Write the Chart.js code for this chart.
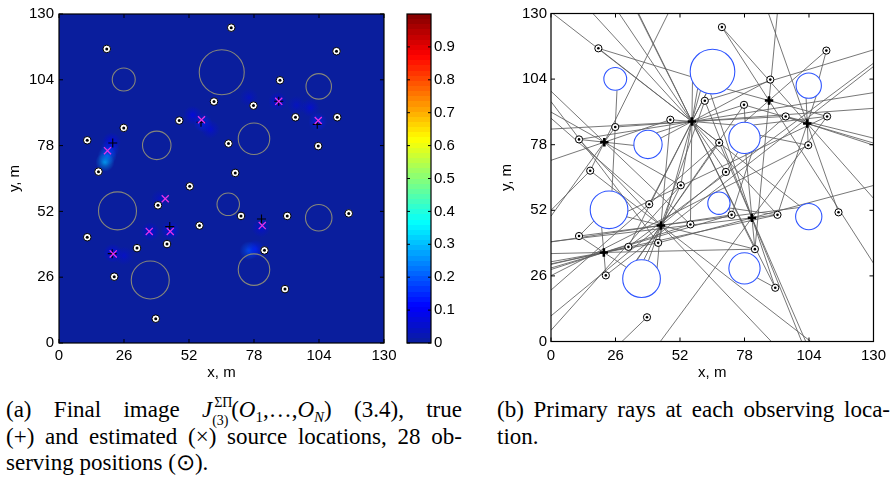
<!DOCTYPE html>
<html>
<head>
<meta charset="utf-8">
<script src="https://cdn.jsdelivr.net/npm/chart.js@4.4.0/dist/chart.umd.min.js"></script>
<style>
  html, body { margin: 0; padding: 0; background: #fff; }
  #wrap { position: relative; width: 893px; height: 477px; overflow: hidden; }
  canvas { position: absolute; top: 0; }
  #cMap { left: 0; }
  #cBar { left: 395px; }
  #cRays { left: 450px; }
  .cap { position: absolute; font-family: "Liberation Serif", "Times New Roman", serif; font-size: 23px; line-height: 26.5px; color: #000; }
  .cap > div { white-space: nowrap; }
  .jl { text-align: justify; text-align-last: justify; }
  .scr { display: inline-block; position: relative; width: 19px; height: 0; vertical-align: baseline; }
  .up { position: absolute; left: 2px; bottom: 7px; font-size: 14px; line-height: 1; }
  .dn { position: absolute; left: 0; top: -3px; font-size: 14px; line-height: 1; }
  sub { font-size: 15px; vertical-align: -5px; line-height: 0; }
</style>
</head>
<body>
<div id="wrap">
  <canvas id="cMap" width="402" height="380"></canvas>
  <canvas id="cBar" width="70" height="380"></canvas>
  <canvas id="cRays" width="443" height="380"></canvas>

  <div class="cap" style="left:6px; top:397px; width:456px;">
    <div class="jl">(a) Final image <i>J</i><span class="scr"><span class="up">ΣΠ</span><span class="dn">(3)</span></span>(<i>O</i><sub>1</sub>,…,<i>O</i><sub><i>N</i></sub>) (3.4), true</div>
    <div class="jl">(+) and estimated (×) source locations, 28 ob-</div>
    <div>serving positions (⊙).</div>
  </div>
  <div class="cap" style="left:497px; top:397px; width:393px;">
    <div class="jl">(b) Primary rays at each observing loca-</div>
    <div>tion.</div>
  </div>
</div>

<script>
// ---------- data (metres) ----------
const AXIS_TICKS = [0, 26, 52, 78, 104, 130];
const CBAR_TICKS = [0, 0.1, 0.2, 0.3, 0.4, 0.5, 0.6, 0.7, 0.8, 0.9];

// observing positions
const obsX = [68.9, 19.1, 111.0, 88.4, 62.0, 77.8, 48.1, 94.6, 111.3, 25.9, 11.3, 67.8, 103.7, 15.8,
              70.5, 52.3, 39.6, 72.8, 91.3, 115.9, 56.2, 11.3, 31.2, 43.2, 82.2, 22.1, 90.4, 38.7];
const obsY = [124.6, 116.2, 115.3, 103.8, 95.4, 93.8, 87.9, 89.2, 89.2, 85.0, 80.1, 78.8, 77.8, 67.7,
              67.2, 61.9, 54.4, 50.2, 50.2, 51.2, 46.4, 41.8, 37.5, 39.1, 36.6, 26.2, 21.3, 9.6];

// true source locations
const srcX = [21.5, 56.8, 87.9, 103.3, 44.3, 21.3, 81.0];
const srcY = [79.0, 87.2, 95.5, 86.4, 46.0, 35.3, 49.0];

// estimated source locations
const estX = [19.4, 57.0, 87.9, 103.7, 42.5, 36.1, 44.5, 21.7, 81.3];
const estY = [76.0, 88.2, 95.5, 87.9, 57.0, 44.1, 44.1, 35.2, 46.4];

// circular obstacles: centre and radius
const obstX = [25.9, 65.1, 103.9, 39.1, 78.0, 23.4, 67.7, 103.9, 36.5, 78.0];
const obstY = [104.1, 107.0, 101.4, 78.1, 80.7, 52.2, 54.8, 49.5, 24.9, 29.0];
const obstR = [4.6, 9.0, 5.1, 5.7, 6.3, 7.6, 4.5, 5.3, 7.6, 6.3];

// local maxima of the final image J (value 0..1)
const blobX = [18.4, 19.3, 20.3, 21.0, 57.5, 53.5, 60.5, 87.5, 103.5, 100.5, 44.5, 36.5, 21.5, 26.0, 80.8, 76.0, 78.5, 40.5, 76.0, 95.0];
const blobY = [71.5, 74.0, 76.5, 79.5, 87.0, 90.0, 84.5, 95.5, 87.5, 93.0, 44.5, 44.0, 35.5, 34.5, 45.5, 36.5, 37.0, 57.0, 97.0, 94.0];
const blobV = [0.30, 0.24, 0.16, 0.10, 0.14, 0.09, 0.07, 0.09, 0.14, 0.07, 0.12, 0.09, 0.11, 0.06, 0.07, 0.20, 0.14, 0.05, 0.05, 0.05];

// primary rays: observer number (1-based) and a point the ray passes through
const rayObs  = [1, 1, 2, 2, 3, 3, 4, 5, 5, 5, 6, 6, 6, 6, 7, 7, 7, 8, 8, 8, 8, 9, 9, 9, 9,
                 10, 10, 10, 10, 11, 11, 11, 12, 12, 12, 12, 13, 13, 13, 14, 14, 14, 15, 15, 15,
                 16, 16, 16, 16, 17, 17, 18, 18, 18, 18, 19, 19, 19, 19, 19, 20, 21, 21, 21,
                 22, 22, 22, 23, 23, 23, 24, 24, 24, 24, 25, 25, 25, 25, 25, 26, 26, 27, 27, 27, 28];
const rayAimX = [87.9, 103.3, 56.8, 87.9, 87.9, 103.3, 56.8, 130, 44.3, 81.0,
                 56.8, 44.3, 81.0, 103.3, 56.8, 44.3, 21.5, 130, 56.8, 44.3, 103.3, 87.9, 21.5, 81.0, 42.5,
                 26.6, 24.6, 56.8, 21.5, 21.5, 56.8, 44.3, 56.8, 81.0, 44.3, 42.5, 103.3, 56.8, 36.1,
                 0, 21.5, 44.3, 87.9, 56.8, 44.3, 56.8, 21.5, 44.3, 36.1, 56.8, 0,
                 44.3, 56.8, 87.9, 21.3, 81.0, 56.8, 103.3, 21.3, 42.5, 103.3, 56.8, 21.5, 21.3,
                 44.3, 56.8, 21.3, 130, 21.3, 56.8, 56.8, 21.3, 0, 81.0, 87.9, 44.3, 56.8, 21.3, 81.0,
                 130, 21.3, 56.8, 81.0, 44.3, 28.6];
const rayAimY = [95.5, 86.4, 87.2, 95.5, 95.5, 86.4, 87.2, 115.6, 46.0, 49.0,
                 87.2, 46.0, 49.0, 86.4, 87.2, 46.0, 79.0, 80.6, 87.2, 46.0, 86.4, 95.5, 79.0, 49.0, 57.0,
                 99.5, 60.0, 87.2, 79.0, 79.0, 87.2, 46.0, 87.2, 49.0, 46.0, 57.0, 86.4, 87.2, 44.1,
                 52.0, 79.0, 46.0, 95.5, 87.2, 46.0, 87.2, 79.0, 46.0, 44.1, 87.2, 88.5,
                 46.0, 87.2, 95.5, 35.3, 49.0, 87.2, 86.4, 35.3, 57.0, 86.4, 87.2, 79.0, 35.3,
                 46.0, 87.2, 35.3, 110.3, 35.3, 87.2, 87.2, 35.3, 95.1, 49.0, 95.5, 46.0, 87.2, 35.3, 49.0,
                 109.0, 35.3, 87.2, 49.0, 46.0, 0];

// ---------- helpers ----------
const SANS = '"Liberation Sans", Arial, Helvetica, sans-serif';
const AXIS_MAX = AXIS_TICKS[AXIS_TICKS.length - 1];
const BLOB_SIZE = 3.8;           // metres
const MAP_BASE = [10, 30, 157];  // colour of the lowest image value
const CLEAR = 'rgba(0,0,0,0)';

function jet(v) {
  const stops = [[0, MAP_BASE], [0.11, [0, 0, 255]], [0.365, [0, 255, 255]],
                 [0.62, [255, 255, 0]], [0.873, [255, 0, 0]], [1, [128, 0, 0]]];
  v = Math.max(0, Math.min(1, v));
  for (let i = 1; i < stops.length; i++) {
    if (v <= stops[i][0]) {
      const [a, ca] = stops[i - 1], [b, cb] = stops[i];
      const f = (v - a) / (b - a);
      return ca.map((c, k) => Math.round(c + (cb[k] - c) * f));
    }
  }
  return stops[stops.length - 1][1];
}

// metres -> pixels along the x scale (0 while the scale is not laid out yet)
function mPix(chart, m) {
  const s = chart.scales && chart.scales.x;
  if (!s) return 0;
  const d = Math.abs(s.getPixelForValue(m) - s.getPixelForValue(0));
  return Number.isFinite(d) ? d : 0;
}

// follow a ray from an observer through a point until it meets an obstacle or the area edge
function traceRay(ox, oy, ax, ay) {
  let dx = ax - ox, dy = ay - oy;
  const len = Math.hypot(dx, dy);
  dx /= len; dy /= len;
  let t = Infinity;
  if (dx > 1e-9) t = Math.min(t, (AXIS_MAX - ox) / dx); else if (dx < -1e-9) t = Math.min(t, -ox / dx);
  if (dy > 1e-9) t = Math.min(t, (AXIS_MAX - oy) / dy); else if (dy < -1e-9) t = Math.min(t, -oy / dy);
  for (let k = 0; k < obstX.length; k++) {
    const fx = ox - obstX[k], fy = oy - obstY[k];
    const b = fx * dx + fy * dy;
    const c = fx * fx + fy * fy - obstR[k] * obstR[k];
    const disc = b * b - c;
    if (disc < 0) continue;
    const t1 = -b - Math.sqrt(disc);
    if (t1 > 1e-6 && t1 < t) t = t1;
  }
  return [{ x: ox, y: oy }, { x: ox + t * dx, y: oy + t * dy }];
}

const pts = (xs, ys) => xs.map((x, i) => ({ x, y: ys[i] }));

// frame with inward tick marks on all four sides, optional background fill
const framePlugin = {
  id: 'frame',
  beforeDatasetsDraw(chart, args, opts) {
    if (!opts.fill) return;
    const { ctx, chartArea: a } = chart;
    ctx.save();
    ctx.fillStyle = opts.fill;
    ctx.fillRect(a.left, a.top, a.right - a.left, a.bottom - a.top);
    ctx.restore();
  },
  afterDatasetsDraw(chart, args, opts) {
    const { ctx, chartArea: a, scales } = chart;
    const L = opts.tickLen || 4;
    ctx.save();
    ctx.strokeStyle = '#000';
    ctx.lineWidth = 1;
    ctx.beginPath();
    if (opts.xTicks) {
      for (const v of opts.xTicks) {
        const p = scales.x.getPixelForValue(v);
        ctx.moveTo(p, a.bottom); ctx.lineTo(p, a.bottom - L);
        ctx.moveTo(p, a.top); ctx.lineTo(p, a.top + L);
      }
    }
    for (const v of opts.yTicks) {
      const p = scales.y.getPixelForValue(v);
      ctx.moveTo(a.left, p); ctx.lineTo(a.left + L, p);
      ctx.moveTo(a.right, p); ctx.lineTo(a.right - L, p);
    }
    ctx.stroke();
    ctx.lineWidth = 1.2;
    ctx.strokeRect(a.left, a.top, a.right - a.left, a.bottom - a.top);
    ctx.restore();
  }
};

function axes(o) {
  const font = { family: SANS, size: 15, lineHeight: 1 };
  const setTicks = s => { s.ticks = AXIS_TICKS.map(v => ({ value: v })); };
  return {
    x: {
      type: 'linear', min: 0, max: AXIS_MAX, afterBuildTicks: setTicks,
      grid: { display: false, drawTicks: false }, border: { display: false },
      ticks: { font, color: '#000', padding: o.xPad, maxRotation: 0, autoSkip: false, callback: v => String(v) },
      title: { display: true, text: 'x, m', font, color: '#000', padding: { top: 0, bottom: 0 } },
      afterFit: s => { s.height = o.xHeight; }
    },
    y: {
      type: 'linear', min: 0, max: AXIS_MAX, afterBuildTicks: setTicks,
      grid: { display: false, drawTicks: false }, border: { display: false },
      ticks: { font, color: '#000', padding: o.yPad, autoSkip: false, callback: v => String(v) },
      title: { display: true, text: 'y, m', font, color: '#000', padding: { top: o.titlePad, bottom: 0 } },
      afterFit: s => { s.width = o.yWidth; }
    }
  };
}

const common = {
  responsive: false, animation: false, events: [],
  plugins: { legend: { display: false }, tooltip: { enabled: false } }
};

function observerSets(ringR, dotR, ringW) {
  return [
    { data: pts(obsX, obsY), pointStyle: 'circle', pointRadius: ringR, pointBackgroundColor: '#fff',
      pointBorderColor: '#000', pointBorderWidth: ringW, order: 3 },
    { data: pts(obsX, obsY), pointStyle: 'circle', pointRadius: dotR, pointBackgroundColor: '#000',
      pointBorderWidth: 0, order: 2 }
  ];
}

// ---------- (a) final image ----------
new Chart(document.getElementById('cMap'), {
  type: 'scatter',
  data: {
    datasets: [
      { // image maxima
        data: pts(blobX, blobY), pointStyle: 'circle', pointBorderWidth: 0, order: 6,
        pointRadius: ctx => ctx.type === 'data' ? mPix(ctx.chart, BLOB_SIZE) : 0,
        pointBackgroundColor: ctx => {
          if (ctx.type !== 'data') return CLEAR;
          const c = ctx.chart, i = ctx.dataIndex;
          if (!c.scales || !c.scales.x) return CLEAR;
          const px = c.scales.x.getPixelForValue(blobX[i]), py = c.scales.y.getPixelForValue(blobY[i]);
          const r = mPix(c, BLOB_SIZE);
          if (!Number.isFinite(px) || !Number.isFinite(py) || !(r > 0)) return CLEAR;
          const [R, G, B] = jet(blobV[i]);
          const g = c.ctx.createRadialGradient(px, py, 0, px, py, r);
          g.addColorStop(0, `rgba(${R},${G},${B},0.75)`);
          g.addColorStop(0.45, `rgba(${R},${G},${B},0.35)`);
          g.addColorStop(1, `rgba(${R},${G},${B},0)`);
          return g;
        }
      },
      { // obstacles
        data: pts(obstX, obstY), pointStyle: 'circle', order: 5,
        pointRadius: ctx => ctx.type === 'data' ? mPix(ctx.chart, obstR[ctx.dataIndex]) : 0,
        pointBackgroundColor: CLEAR, pointBorderColor: '#86867a', pointBorderWidth: 1.1
      },
      ...observerSets(3.8, 1.5, 1),
      { // true sources
        data: pts(srcX, srcY), pointStyle: 'cross', pointRadius: 4.5,
        pointBorderColor: '#000', pointBorderWidth: 1.1, order: 1
      },
      { // estimated sources
        data: pts(estX, estY), pointStyle: 'crossRot', pointRadius: 5,
        pointBorderColor: '#e632e6', pointBorderWidth: 1.3, order: 0
      }
    ]
  },
  options: {
    ...common,
    layout: { padding: { left: 0, top: 14, right: 14, bottom: 0 } },
    scales: axes({ xPad: 5.5, yPad: 5, xHeight: 37, yWidth: 59, titlePad: 7.5 }),
    plugins: { ...common.plugins, frame: { fill: `rgb(${MAP_BASE.join(',')})`, xTicks: AXIS_TICKS, yTicks: AXIS_TICKS } }
  },
  plugins: [framePlugin]
});

// ---------- colour bar ----------
new Chart(document.getElementById('cBar'), {
  type: 'bar',
  data: {
    labels: [''],
    datasets: [{
      data: [[0, 1]], barPercentage: 1, categoryPercentage: 1, borderWidth: 0,
      backgroundColor: ctx => {
        const a = ctx.chart.chartArea;
        if (!a || !Number.isFinite(a.top) || a.bottom <= a.top) return `rgb(${MAP_BASE.join(',')})`;
        const g = ctx.chart.ctx.createLinearGradient(0, a.bottom, 0, a.top);
        const n = 64;
        for (let i = 0; i < n; i++) {
          const col = `rgb(${jet((i + 0.5) / n).join(',')})`;
          g.addColorStop(i / n, col);
          g.addColorStop((i + 1) / n, col);
        }
        return g;
      }
    }]
  },
  options: {
    ...common,
    layout: { padding: { left: 12, top: 14, right: 0, bottom: 37 } },
    scales: {
      x: { display: false },
      y: {
        position: 'right', min: 0, max: 1,
        afterBuildTicks: s => { s.ticks = CBAR_TICKS.map(v => ({ value: v })); },
        grid: { display: false, drawTicks: false }, border: { display: false },
        ticks: { font: { family: SANS, size: 15, lineHeight: 1 }, color: '#000', padding: 3, callback: v => String(v) },
        afterFit: s => { s.width = 34; }
      }
    },
    plugins: { ...common.plugins, frame: { yTicks: CBAR_TICKS, tickLen: 3 } }
  },
  plugins: [framePlugin]
});

// ---------- (b) primary rays ----------
const rayData = rayObs.map((k, i) => traceRay(obsX[k - 1], obsY[k - 1], rayAimX[i], rayAimY[i]));

new Chart(document.getElementById('cRays'), {
  type: 'scatter',
  data: {
    datasets: [
      ...rayData.map(seg => ({
        data: seg, showLine: true, pointRadius: 0, borderColor: '#5e5e5e', borderWidth: 0.85, order: 6
      })),
      { // obstacles
        data: pts(obstX, obstY), pointStyle: 'circle', order: 5,
        pointRadius: ctx => ctx.type === 'data' ? mPix(ctx.chart, obstR[ctx.dataIndex]) : 0,
        pointBackgroundColor: CLEAR, pointBorderColor: '#2f55ff', pointBorderWidth: 1.1
      },
      ...observerSets(3.6, 1.3, 1),
      { // true sources
        data: pts(srcX, srcY), pointStyle: 'cross', pointRadius: 4.2,
        pointBorderColor: '#000', pointBorderWidth: 2.6, order: 1
      }
    ]
  },
  options: {
    ...common,
    layout: { padding: { left: 42, top: 13.5, right: 13, bottom: 0 } },
    scales: axes({ xPad: 7, yPad: 4, xHeight: 38.5, yWidth: 59, titlePad: 7.5 }),
    plugins: { ...common.plugins, frame: { xTicks: AXIS_TICKS, yTicks: AXIS_TICKS } }
  },
  plugins: [framePlugin]
});
</script>
</body>
</html>
